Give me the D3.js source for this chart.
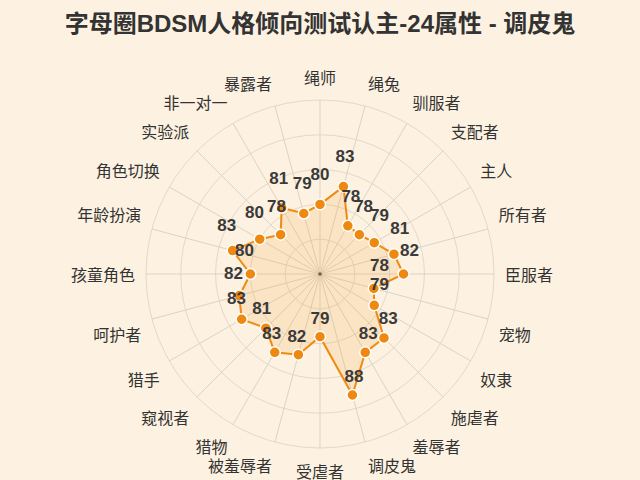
<!DOCTYPE html>
<html><head><meta charset="utf-8">
<script src="https://cdn.jsdelivr.net/npm/d3@7"></script>
<style>
html,body{margin:0;padding:0;background:#fdf2e1;}
svg{display:block;font-family:"Liberation Sans","Noto Sans CJK SC",sans-serif;}
</style></head>
<body><svg id="c" width="640" height="480"></svg>
<script>
const title = "字母圈BDSM人格倾向测试认主-24属性 - 调皮鬼";
const categories = ["绳师","绳兔","驯服者","支配者","主人","所有者","臣服者","宠物","奴隶","施虐者","羞辱者","调皮鬼","受虐者","被羞辱者","猎物","窥视者","猎手","呵护者","孩童角色","年龄扮演","角色切换","实验派","非一对一","暴露者"];
const values = [80,83,78,78,79,81,82,78,79,83,83,88,79,82,83,81,83,82,80,83,80,78,81,79];
const radialDomain = [70,95];
const ringTicks = [75,80,85,90,95];

const svg = d3.select("#c");
const cx = 320, cy = 274, R = 174;
svg.append("rect").attr("width",640).attr("height",480).attr("fill","#fdf2e1");

svg.append("text").attr("x",320).attr("y",23).attr("text-anchor","middle")
  .attr("dominant-baseline","central").attr("font-size",24).attr("font-weight","bold")
  .attr("fill","#333").text(title);

const r = d3.scaleLinear().domain(radialDomain).range([0,R]);
const ang = d3.scaleBand().domain(categories).range([0,2*Math.PI]).paddingInner(0).paddingOuter(0);
const a = c => ang(c);
const g = svg.append("g").attr("transform",`translate(${cx},${cy})`);

// rings
g.selectAll("circle.ring").data(ringTicks).join("circle").attr("class","ring")
  .attr("r",d=>r(d)).attr("fill","none").attr("stroke","#e4d9c8").attr("stroke-width",1);
// spokes
g.selectAll("line.spoke").data(categories).join("line")
  .attr("x1",0).attr("y1",0)
  .attr("x2",d=>R*Math.sin(a(d))).attr("y2",d=>-R*Math.cos(a(d)))
  .attr("stroke","#ddd3c3").attr("stroke-width",1);
g.append("circle").attr("r",1.8).attr("fill","#555");

// axis names
const NR = 185;
g.selectAll("text.name").data(categories).join("text")
  .attr("x",d=>NR*Math.sin(a(d))).attr("y",d=>-NR*Math.cos(a(d)))
  .attr("text-anchor",d=>{const s=Math.sin(a(d)); return Math.abs(s)<1e-3?"middle":(s>0?"start":"end");})
  .attr("dominant-baseline",d=>{const c=Math.cos(a(d)); return Math.abs(c)<1e-3?"central":(c>0?"text-after-edge":"text-before-edge");})
  .attr("font-size",16).attr("fill","#333").attr("font-family","'Noto Sans CJK SC',sans-serif")
  .text(d=>d);

const pts = categories.map((c,i)=>({c, v:values[i], x:r(values[i])*Math.sin(a(c)), y:-r(values[i])*Math.cos(a(c)), t:a(c)}));
const line = d3.line().x(d=>d.x).y(d=>d.y).curve(d3.curveLinearClosed);
g.append("path").attr("d",line(pts)).attr("fill","#f39c2a").attr("fill-opacity",0.16)
  .attr("stroke","#ef8a12").attr("stroke-width",2);
g.selectAll("circle.pt").data(pts).join("circle").attr("class","pt")
  .attr("cx",d=>d.x).attr("cy",d=>d.y).attr("r",5.5)
  .attr("fill","#ef880e").attr("stroke","#fff").attr("stroke-width",1.5);
g.selectAll("text.val").data(pts).join("text")
  .attr("x",d=>d.x+6*Math.sin(d.t)).attr("y",d=>d.y-6*Math.cos(d.t)-24)
  .attr("text-anchor","middle").attr("dominant-baseline","central")
  .attr("font-size",17).attr("font-weight","bold").attr("fill","#3a3a3a")
  .text(d=>d.v);
</script></body></html>
